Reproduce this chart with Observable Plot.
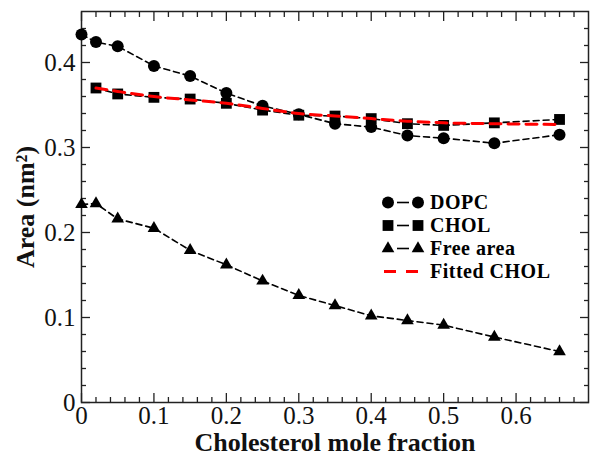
<!DOCTYPE html>
<html>
<head>
<meta charset="utf-8">
<script src="https://cdn.jsdelivr.net/npm/d3@7"></script>
<script src="https://cdn.jsdelivr.net/npm/@observablehq/plot@0.6"></script>
<style>
  body { margin: 0; background: #fff; }
  #wrap { position: relative; width: 600px; height: 458px; }
  #wrap svg [aria-label="x-axis label"], #wrap svg [aria-label="y-axis label"] { font-weight: bold; font-size: 26px; }
  #legend { position: absolute; left: 380px; top: 191px; font-family: "Liberation Serif", serif; font-weight: bold; font-size: 20px; letter-spacing: 0.5px; }
  #legend .row { display: flex; align-items: center; height: 23px; }
  #legend .row span { display: block; line-height: 23px; }
  #legend svg { display: block; margin-right: 4px; }
</style>
</head>
<body>
<div id="wrap"></div>
<script>
const molFraction = [0, 0.02, 0.05, 0.1, 0.15, 0.2, 0.25, 0.3, 0.35, 0.4, 0.45, 0.5, 0.57, 0.66];
const dopcArea   = [0.433, 0.424, 0.419, 0.396, 0.384, 0.364, 0.349, 0.339, 0.328, 0.324, 0.314, 0.311, 0.305, 0.315];
const cholArea   = [null, 0.370, 0.363, 0.359, 0.357, 0.352, 0.344, 0.338, 0.337, 0.334, 0.328, 0.326, 0.329, 0.333];
const fittedChol = [null, 0.370, 0.366, 0.360, 0.356, 0.352, 0.346, 0.340, 0.337, 0.334, 0.331, 0.329, 0.328, 0.327];
const freeArea   = [0.233, 0.234, 0.216, 0.205, 0.179, 0.162, 0.143, 0.126, 0.114, 0.102, 0.0965, 0.091, 0.077, 0.060];

const xMajorTicks = [0, 0.1, 0.2, 0.3, 0.4, 0.5, 0.6];
const xMinorTicks = [0.02,0.04,0.06,0.08,0.12,0.14,0.16,0.18,0.22,0.24,0.26,0.28,0.32,0.34,0.36,0.38,0.42,0.44,0.46,0.48,0.52,0.54,0.56,0.58,0.62,0.64,0.66,0.68];
const yMajorTicks = [0, 0.1, 0.2, 0.3, 0.4];
const yMinorTicks = [0.02,0.04,0.06,0.08,0.12,0.14,0.16,0.18,0.22,0.24,0.26,0.28,0.32,0.34,0.36,0.38,0.42,0.44];

const series = [
  {name: "DOPC", values: dopcArea, symbol: "circle", r: 6},
  {name: "CHOL", values: cholArea, symbol: "square", r: 6.1},
  {name: "Free area", values: freeArea, symbol: "triangle", r: 4.7}
];
const rowsOf = s => molFraction.map((x, i) => ({x, y: s.values[i], name: s.name})).filter(d => d.y != null);
const rows = series.flatMap(rowsOf);
const fitRows = molFraction.map((x, i) => ({x, y: fittedChol[i]})).filter(d => d.y != null);

const fmt = d => d === 0 ? "0" : d3.format(".1f")(d);
const tickStyle = {stroke: "#222", strokeWidth: 1.3};

const chart = Plot.plot({
  width: 600, height: 458,
  marginLeft: 81, marginRight: 12, marginTop: 11, marginBottom: 56,
  style: {fontFamily: "'Liberation Serif', serif", fontSize: "25px", color: "#111", background: "#fff"},
  x: {domain: [0, 0.7]},
  y: {domain: [0, 0.46]},
  marks: [
    // inward ticks on all four sides
    Plot.axisX(xMajorTicks, {anchor: "bottom", tickSize: -9, tickFormat: () => "", label: null, ...tickStyle}),
    Plot.axisX(xMinorTicks, {anchor: "bottom", tickSize: -5, tickFormat: () => "", label: null, ...tickStyle}),
    Plot.axisX(xMajorTicks, {anchor: "top", tickSize: -9, tickFormat: () => "", label: null, ...tickStyle}),
    Plot.axisX(xMinorTicks, {anchor: "top", tickSize: -5, tickFormat: () => "", label: null, ...tickStyle}),
    Plot.axisY(yMajorTicks, {anchor: "left", tickSize: -9, tickFormat: () => "", label: null, ...tickStyle}),
    Plot.axisY(yMinorTicks, {anchor: "left", tickSize: -5, tickFormat: () => "", label: null, ...tickStyle}),
    Plot.axisY(yMajorTicks, {anchor: "right", tickSize: -9, tickFormat: () => "", label: null, ...tickStyle}),
    Plot.axisY(yMinorTicks, {anchor: "right", tickSize: -5, tickFormat: () => "", label: null, ...tickStyle}),
    // labels
    Plot.axisX(xMajorTicks, {anchor: "bottom", tickSize: 0, tickPadding: 4, tickFormat: fmt,
      label: "Cholesterol mole fraction", labelAnchor: "center", labelArrow: "none", labelOffset: 48}),
    Plot.axisY(yMajorTicks, {anchor: "left", tickSize: 0, tickPadding: 6, tickFormat: fmt,
      label: "Area (nm²)", labelAnchor: "center", labelArrow: "none", labelOffset: 66}),
    Plot.frame({stroke: "#222", strokeWidth: 1.5}),
    Plot.line(rows, {x: "x", y: "y", z: "name", stroke: "black", strokeWidth: 1.6, strokeDasharray: "6,4"}),
    ...series.map(s => Plot.dot(rowsOf(s), {x: "x", y: "y", symbol: s.symbol, r: s.r, fill: "black", stroke: "none"})),
    Plot.line(fitRows, {x: "x", y: "y", stroke: "#ff0000", strokeWidth: 3, strokeDasharray: "11,7", curve: "monotone-x"})
  ]
});
document.getElementById("wrap").appendChild(chart);

// legend
const legend = document.createElement("div");
legend.id = "legend";
const legendItems = [
  {name: "DOPC", symbol: d3.symbolCircle, r: 6, color: "black"},
  {name: "CHOL", symbol: d3.symbolSquare, r: 6.1, color: "black"},
  {name: "Free area", symbol: d3.symbolTriangle, r: 4.7, color: "black"},
  {name: "Fitted CHOL", symbol: null, color: "#ff0000"}
];
for (const item of legendItems) {
  const row = document.createElement("div");
  row.className = "row";
  const s = d3.create("svg").attr("width", 46).attr("height", 21);
  if (item.symbol) {
    const p = d3.symbol(item.symbol, item.r * item.r * Math.PI)();
    s.append("line").attr("x1", 17).attr("x2", 29).attr("y1", 10.5).attr("y2", 10.5).attr("stroke", "black").attr("stroke-width", 1.6);
    s.append("path").attr("d", p).attr("transform", "translate(8,10.5)").attr("fill", "black");
    s.append("path").attr("d", p).attr("transform", "translate(38,10.5)").attr("fill", "black");
  } else {
    s.append("line").attr("x1", 2).attr("x2", 44).attr("y1", 10.5).attr("y2", 10.5).attr("stroke", item.color).attr("stroke-width", 3).attr("stroke-dasharray", "12,10").attr("stroke-dashoffset", -2);
  }
  row.appendChild(s.node());
  const t = document.createElement("span");
  t.textContent = item.name;
  row.appendChild(t);
  legend.appendChild(row);
}
document.getElementById("wrap").appendChild(legend);
</script>
</body>
</html>
